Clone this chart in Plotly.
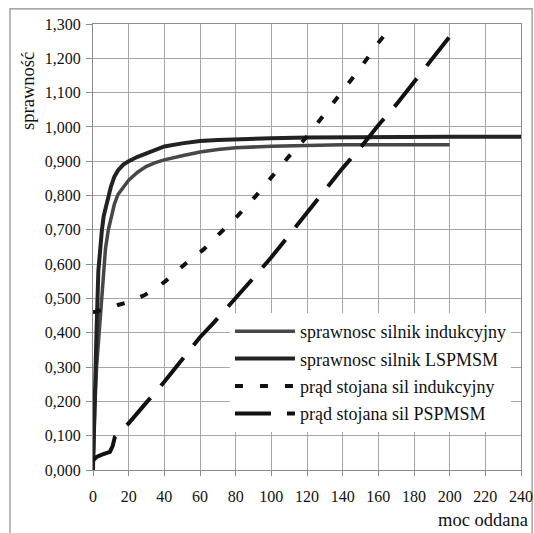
import plotly.graph_objects as go

# ---- data ----
eff_ind_x = [0, 0.5, 1, 2, 3, 4, 5, 6, 7, 8.6, 10, 12, 14, 17, 20, 25, 30, 35, 40, 50, 60, 70, 80, 100, 120, 140, 160, 180, 200]
eff_ind_y = [0, 0.10, 0.18, 0.30, 0.37, 0.43, 0.52, 0.59, 0.645, 0.70, 0.735, 0.775, 0.803, 0.826, 0.845, 0.868, 0.885, 0.896, 0.904, 0.916, 0.927, 0.934, 0.939, 0.944, 0.947, 0.948, 0.948, 0.948, 0.948]

eff_ls_x = [0, 0.5, 1, 1.5, 2, 3, 4, 5, 6, 8.6, 10, 12, 14, 17, 20, 25, 30, 40, 50, 60, 70, 80, 100, 120, 140, 160, 180, 200, 220, 240]
eff_ls_y = [0, 0.12, 0.25, 0.34, 0.41, 0.58, 0.65, 0.70, 0.74, 0.797, 0.825, 0.855, 0.873, 0.89, 0.90, 0.913, 0.924, 0.943, 0.952, 0.959, 0.962, 0.964, 0.967, 0.969, 0.970, 0.971, 0.971, 0.971, 0.971, 0.971]

cur_ind_x = [0, 5, 10, 14, 20, 29, 35, 41, 52, 62, 72, 81.5, 91, 101, 110, 120, 130, 137.6, 150, 160, 168.5]
cur_ind_y = [0.460, 0.465, 0.472, 0.481, 0.490, 0.510, 0.528, 0.552, 0.602, 0.643, 0.695, 0.743, 0.797, 0.860, 0.915, 0.972, 1.040, 1.090, 1.172, 1.245, 1.300]

cur_pm_x = [0, 2, 5, 9.5, 11, 12.3, 15, 20, 30, 40, 50, 60, 67.5, 80, 90, 100, 110, 120, 130, 140, 150, 160, 170, 180, 190, 200]
cur_pm_y = [0.028, 0.038, 0.045, 0.053, 0.070, 0.097, 0.112, 0.136, 0.197, 0.257, 0.322, 0.387, 0.428, 0.500, 0.560, 0.620, 0.685, 0.750, 0.815, 0.880, 0.940, 1.005, 1.065, 1.130, 1.197, 1.263]

names = ["sprawnosc silnik indukcyjny", "sprawnosc silnik LSPMSM",
         "prąd stojana sil indukcyjny", "prąd stojana sil PSPMSM"]

x_ticks = list(range(0, 241, 20))
y_ticks = [i / 10 for i in range(0, 14)]
y_ticktext = ["%d,%03d" % (int(v), round((v - int(v)) * 1000)) for v in y_ticks]

FONT = "Liberation Serif, Times New Roman, serif"
TXT = "#111111"

fig = go.Figure()
fig.add_trace(go.Scatter(x=eff_ind_x, y=eff_ind_y, mode="lines", name=names[0], legendgroup="a",
                         line=dict(color="#474747", width=3.5)))
fig.add_trace(go.Scatter(x=eff_ls_x, y=eff_ls_y, mode="lines", name=names[1], legendgroup="b",
                         line=dict(color="#222222", width=4)))
fig.add_trace(go.Scatter(x=cur_ind_x, y=cur_ind_y, mode="lines", name=names[2], legendgroup="c",
                         line=dict(color="#111111", width=4, dash="8px,17px")))
fig.add_trace(go.Scatter(x=cur_pm_x, y=cur_pm_y, mode="lines", name=names[3], legendgroup="d",
                         line=dict(color="#111111", width=4, dash="36px,16px")))

grid = "#a6a6a6"
fig.update_xaxes(range=[0, 240], tickvals=x_ticks, ticktext=[str(v) for v in x_ticks],
                 showgrid=True, gridcolor=grid, gridwidth=1, zeroline=False,
                 showline=True, linecolor="#8c8c8c", linewidth=1, mirror=True,
                 ticks="outside", ticklen=5, tickcolor="#8c8c8c", ticklabelstandoff=7,
                 tickfont=dict(family=FONT, size=16, color=TXT), automargin=False)
fig.update_yaxes(range=[0, 1.3], tickvals=y_ticks, ticktext=y_ticktext,
                 showgrid=True, gridcolor=grid, gridwidth=1, zeroline=False,
                 showline=True, linecolor="#8c8c8c", linewidth=1, mirror=True,
                 ticks="outside", ticklen=6, tickcolor="#8c8c8c", ticklabelstandoff=2,
                 tickfont=dict(family=FONT, size=16, color=TXT), automargin=False)

fig.update_layout(
    width=534, height=533,
    margin=dict(l=93, r=13, t=24, b=63, autoexpand=False),
    paper_bgcolor="white", plot_bgcolor="white",
    font=dict(family=FONT, size=16, color=TXT),
    legend=dict(x=0.320, y=0.352, xanchor="left", yanchor="top",
                bgcolor="white", borderwidth=0, tracegroupgap=1,
                traceorder="grouped", itemwidth=60,
                font=dict(family=FONT, size=18, color=TXT)),
    annotations=[
        dict(text="sprawność", textangle=-90, xref="paper", yref="paper",
             x=-0.152, y=0.9417, xanchor="center", yanchor="top", showarrow=False,
             font=dict(family=FONT, size=18.5, color=TXT)),
        dict(text="moc oddana", xref="paper", yref="paper",
             x=1.021, y=-0.112, xanchor="right", yanchor="middle", showarrow=False,
             font=dict(family=FONT, size=18.5, color=TXT)),
    ],
    shapes=[
        dict(type="rect", xref="paper", yref="paper",
             x0=-0.194, x1=1.026, y0=-0.2, y1=1.034,
             line=dict(color="#8c8c8c", width=1.2), fillcolor="rgba(0,0,0,0)", layer="below"),
    ],
)

fig.write_html("out.html", config={"displayModeBar": False},
               post_script="document.body.style.margin='0';document.body.style.overflow='hidden';")
